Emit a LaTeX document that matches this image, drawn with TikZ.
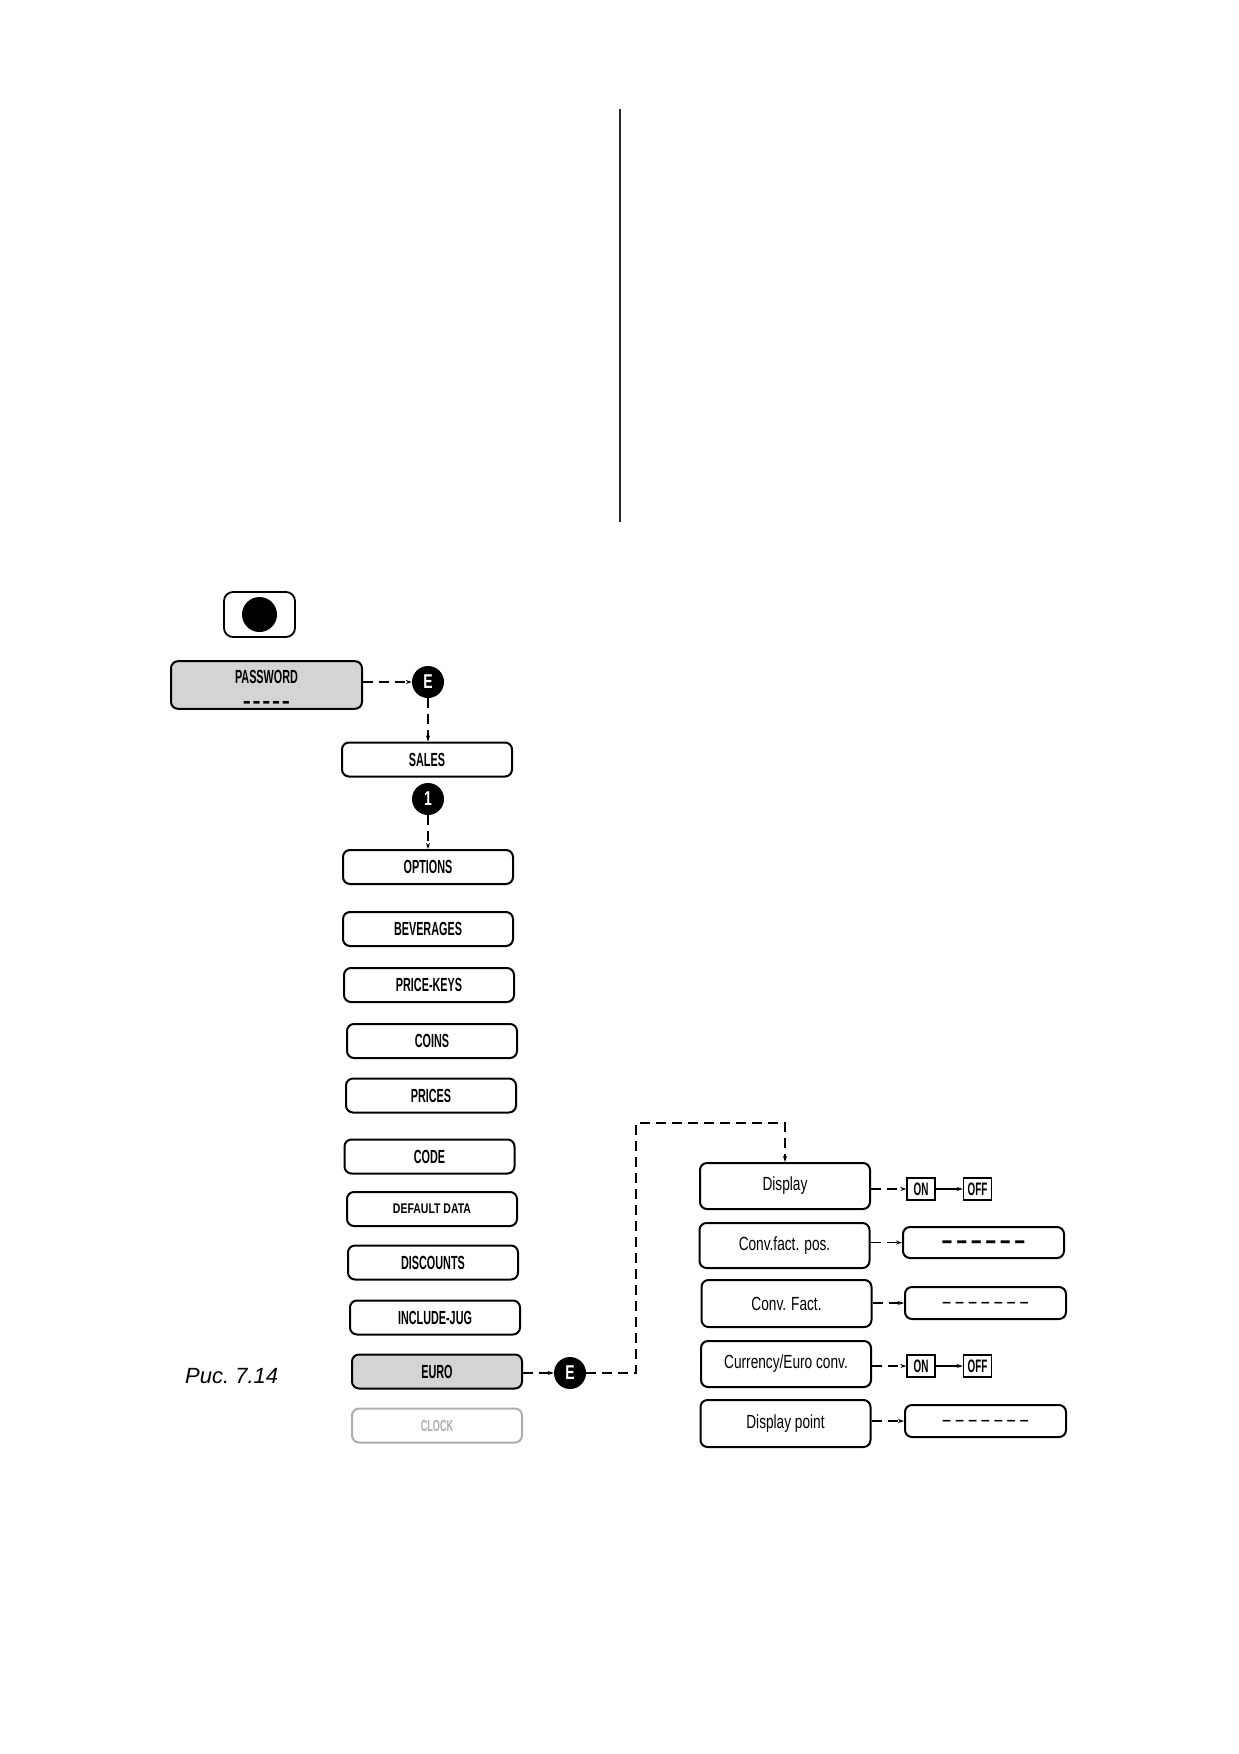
\documentclass[tikz,border=0pt]{standalone}
\usepackage{fontspec}
\setmainfont{Liberation Sans}
\usetikzlibrary{arrows.meta}
\definecolor{boxgray}{gray}{0.83}
\definecolor{faint}{gray}{0.68}
\newcommand\cx[2][0.57]{\scalebox{#1}[1]{#2}}
\newcommand\hy{-\kern0.07em\relax}
\begin{document}
\begin{tikzpicture}[x=1pt,y=-1pt,
  box/.style={draw, line width=2, rounded corners=7, minimum width=170, minimum height=34, inner sep=0, font=\fontsize{19}{22}\selectfont\bfseries},
  gbox/.style={box, fill=boxgray},
  sbox/.style={box, minimum height=46, font=\fontsize{19}{22}\selectfont},
  vbox/.style={draw, line width=2, rounded corners=7, minimum width=161, minimum height=31, inner sep=0},
  onoff/.style={draw, line width=1.4, minimum width=28, minimum height=22, inner sep=0, font=\fontsize{18}{20}\selectfont\bfseries},
  key/.style={circle, fill=black, minimum size=32, inner sep=0, text=white, font=\fontsize{20}{20}\selectfont\bfseries},
  conn/.style={line width=1.2, -{Stealth[length=6pt,width=4pt]}},
  dconn/.style={conn, dash pattern=on 10pt off 6pt},
]
\useasboundingbox (0,0) rectangle (1239,1754);

% vertical rule at the top
\coordinate (vt) at (620,109);
\coordinate (vb) at (620,522);
\draw[line width=2, black!85] (vt) -- (vb);

% button
\node[draw, line width=1.8, rounded corners=9, minimum width=71, minimum height=45] (btn) at (259.5,614.5) {};
\node[circle, fill=black, minimum size=35, inner sep=0] (dot) at (btn.center) {};

% password
\node[gbox, minimum width=191, minimum height=46, align=center] (pw) at (266.5,685)
  {\rule{0pt}{22.6pt}\cx{PASSWORD}\\[3pt]\smash{\fontsize{22}{14}\selectfont\scalebox{1.1}[1]{\hy\hy\hy\hy-}}};
\node[key] (e1) at (428,682) {\cx[0.7]{E}};

% main menu
\node[box] (sales) at (427,759.5) {\cx{SALES}};
\node[key] (n1) at (428,799) {\cx[0.7]{1}};
\node[box] (opt) at (428,867) {\cx{OPTIONS}};
\node[box] (bev) at (428,929) {\cx{BEVERAGES}};
\node[box] (pk) at (429,985) {\cx{PRICE-KEYS}};
\node[box] (coins) at (432,1041) {\cx{COINS}};
\node[box] (prices) at (431,1095.5) {\cx{PRICES}};
\node[box] (code) at (429.5,1156.5) {\cx{CODE}};
\node[box, font=\fontsize{14}{16}\selectfont\bfseries] (dd) at (432,1209) {\cx[0.75]{DEFAULT DATA}};
\node[box] (disc) at (433,1262.5) {\cx{DISCOUNTS}};
\node[box] (jug) at (435,1317.5) {\cx{INCLUDE-JUG}};
\node[gbox] (euro) at (437,1371.5) {\cx{EURO}};
\node[box, draw=faint, text=faint, font=\fontsize{16}{18}\selectfont\bfseries] (clock) at (437,1425.5) {\cx{CLOCK}};
\node[key] (e2) at (570,1373) {\cx[0.7]{E}};

\node[anchor=base west, inner sep=0, font=\fontsize{22}{22}\selectfont\itshape] (fig) at (185,1383) {Рис.\ 7.14};

% euro submenu
\node[sbox] (disp) at (785,1186) {\cx[0.72]{Display}};
\node[sbox, minimum height=45] (cfp) at (784.5,1245.5) {\cx[0.72]{Conv.fact. pos.}};
\node[sbox, minimum height=47] (cf) at (786.5,1303.5) {\cx[0.72]{Conv. Fact.}};
\node[sbox] (cur) at (786,1364) {\cx[0.72]{Currency/Euro conv.}};
\node[sbox, minimum height=47] (dp) at (785.5,1423.5) {\cx[0.72]{Display point}};

\node[onoff] (on1) at (921,1189) {\cx[0.55]{ON}};
\node[onoff] (off1) at (977.5,1189) {\cx[0.55]{OFF}};
\node[onoff] (on2) at (921,1366) {\cx[0.55]{ON}};
\node[onoff] (off2) at (977.5,1366) {\cx[0.55]{OFF}};

\node[vbox, font=\fontsize{24}{24}\selectfont\bfseries] (v1) at (983.5,1242.5) {\raisebox{-6pt}[0pt][0pt]{\scalebox{1.5}[1]{\hy\hy\hy\hy\hy-}}};
\node[vbox, minimum height=32, font=\fontsize{20}{20}\selectfont] (v2) at (985.5,1303) {\raisebox{-5pt}[0pt][0pt]{\scalebox{1.6}[1]{\hy\hy\hy\hy\hy\hy-}}};
\node[vbox, minimum height=32, font=\fontsize{20}{20}\selectfont] (v3) at (985.5,1421) {\raisebox{-5pt}[0pt][0pt]{\scalebox{1.6}[1]{\hy\hy\hy\hy\hy\hy-}}};

% connectors
\draw[dconn] (e1.west -| pw.east) -- (e1.west);
\draw[dconn] (e1.south) -- (e1.south |- sales.north);
\draw[dconn] (n1.south) -- (n1.south |- opt.north);
\draw[dconn] (e2.west -| euro.east) -- (e2.west);
\coordinate (c1) at (636,1373);
\coordinate (c2) at (636,1123);
\draw[dconn] (e2.east) -- (c1) -- (c2) -| (disp.north);

\draw[dconn] (disp.east |- on1.west) -- (on1.west);
\draw[conn] (on1.east) -- (off1.west);
\draw[dconn] (cfp.east |- v1.west) -- (v1.west);
\draw[dconn] (cf.east |- v2.west) -- (v2.west);
\draw[dconn] (cur.east |- on2.west) -- (on2.west);
\draw[conn] (on2.east) -- (off2.west);
\draw[dconn] (dp.east |- v3.west) -- (v3.west);
\end{tikzpicture}
\end{document}
